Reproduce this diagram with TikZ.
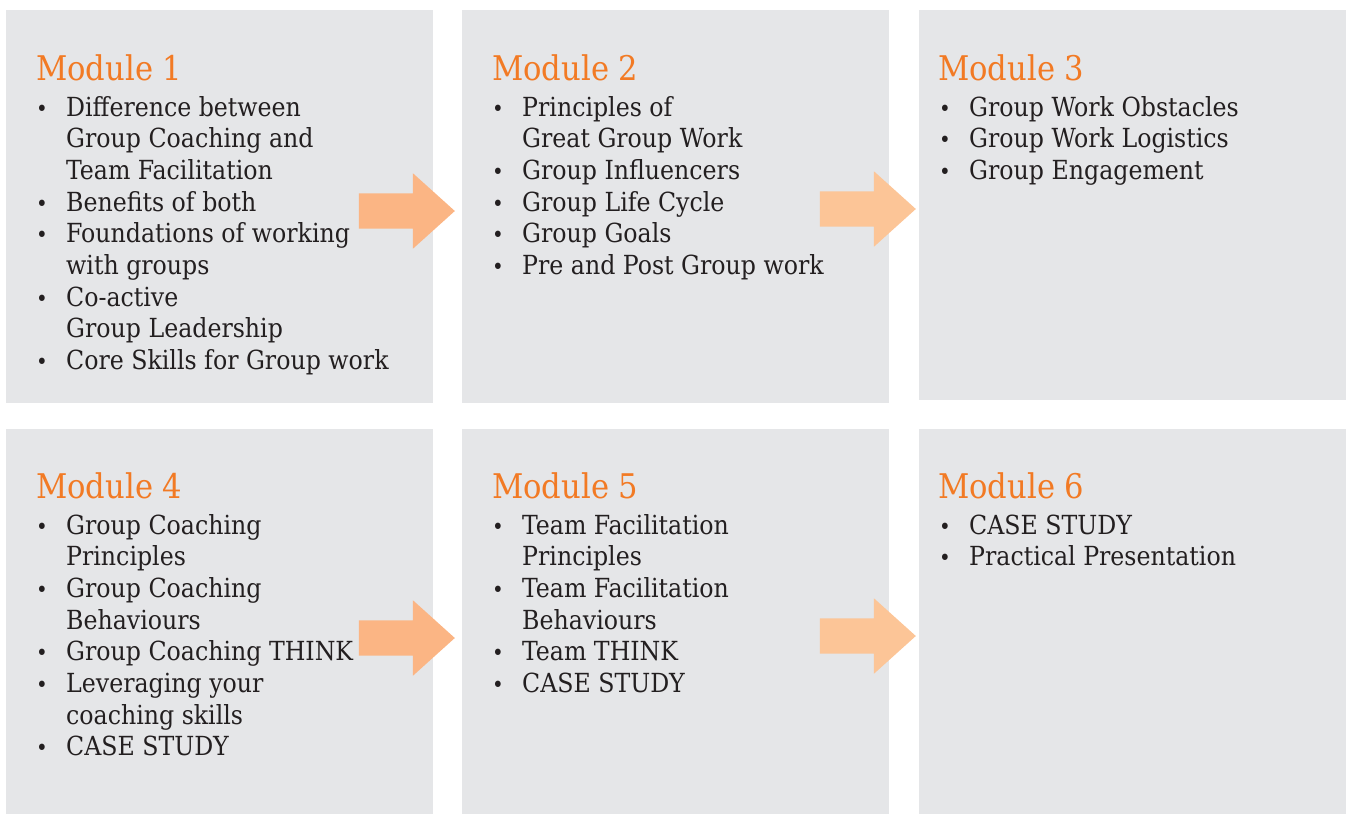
\documentclass[tikz,border=0pt]{standalone}
\usepackage{fontspec}
\setmainfont{DejaVu Serif Condensed}
\usetikzlibrary{shapes.arrows}
\definecolor{boxgray}{HTML}{E5E6E8}
\definecolor{modorange}{HTML}{F27A24}
\definecolor{peachA}{HTML}{FBB584}
\definecolor{peachB}{HTML}{FCC597}
\definecolor{txt}{HTML}{231F20}
\newcommand{\bul}{{\fontsize{22}{22}\selectfont•}}
\begin{document}
\begin{tikzpicture}[x=1pt, y=-1pt,
  modbox/.style = {draw=none, fill=boxgray, anchor=north west, inner sep=0pt,
    minimum width=427pt},
  title/.style = {anchor=base west, inner sep=0pt, text=modorange,
    font=\fontsize{34}{40}\selectfont},
  items/.style = {anchor=base west, inner sep=0pt, text=txt,
    font=\fontsize{26.3}{31.7}\selectfont},
  blockarrow/.style = {single arrow, draw=none, inner xsep=0pt, inner ysep=17.5pt,
    minimum height=96pt, minimum width=75pt,
    single arrow head extend=20pt, single arrow tip angle=84}]
  \useasboundingbox (0,0) rectangle (1346,814);
  % boxes
  \node[modbox, minimum height=393pt] (m1) at (6,10) {};
  \node[modbox, minimum height=393pt] (m2) at (462,10) {};
  \node[modbox, minimum height=390pt] (m3) at (919,10) {};
  \node[modbox, minimum height=385pt] (m4) at (6,429) {};
  \node[modbox, minimum height=385pt] (m5) at (462,429) {};
  \node[modbox, minimum height=385pt] (m6) at (919,429) {};
  % titles
  \node[title] (t1) at (36,80) {Module 1};
  \node[title] (t2) at (492,80) {Module 2};
  \node[title] (t3) at (938,80) {Module 3};
  \node[title] (t4) at (36,498) {Module 4};
  \node[title] (t5) at (492,498) {Module 5};
  \node[title] (t6) at (938,498) {Module 6};
  % bullet lists
  \node[items] (l1) at (36,116) {\begin{tabular}[t]{@{}p{30pt}@{}l@{}}
    \bul & Difference between\\ & Group Coaching and\\ & Team Facilitation\\
    \bul & Benefits of both\\
    \bul & Foundations of working\\ & with groups\\
    \bul & Co-active\\ & Group Leadership\\
    \bul & Core Skills for Group work
  \end{tabular}};
  \node[items] (l2) at (492,116) {\begin{tabular}[t]{@{}p{30pt}@{}l@{}}
    \bul & Principles of\\ & Great Group Work\\
    \bul & Group Influencers\\
    \bul & Group Life Cycle\\
    \bul & Group Goals\\
    \bul & Pre and Post Group work
  \end{tabular}};
  \node[items] (l3) at (939,116) {\begin{tabular}[t]{@{}p{30pt}@{}l@{}}
    \bul & Group Work Obstacles\\
    \bul & Group Work Logistics\\
    \bul & Group Engagement
  \end{tabular}};
  \node[items] (l4) at (36,534) {\begin{tabular}[t]{@{}p{30pt}@{}l@{}}
    \bul & Group Coaching\\ & Principles\\
    \bul & Group Coaching\\ & Behaviours\\
    \bul & Group Coaching THINK\\
    \bul & Leveraging your\\ & coaching skills\\
    \bul & CASE STUDY
  \end{tabular}};
  \node[items] (l5) at (492,534) {\begin{tabular}[t]{@{}p{30pt}@{}l@{}}
    \bul & Team Facilitation\\ & Principles\\
    \bul & Team Facilitation\\ & Behaviours\\
    \bul & Team THINK\\
    \bul & CASE STUDY
  \end{tabular}};
  \node[items] (l6) at (939,534) {\begin{tabular}[t]{@{}p{30pt}@{}l@{}}
    \bul & CASE STUDY\\
    \bul & Practical Presentation
  \end{tabular}};
  % arrows
  \node[blockarrow, fill=peachA] (a12) at (397,211) {};
  \node[blockarrow, fill=peachB] (a23) at (858,209) {};
  \node[blockarrow, fill=peachA] (a45) at (397,638) {};
  \node[blockarrow, fill=peachB] (a56) at (858,636) {};
\end{tikzpicture}
\end{document}
